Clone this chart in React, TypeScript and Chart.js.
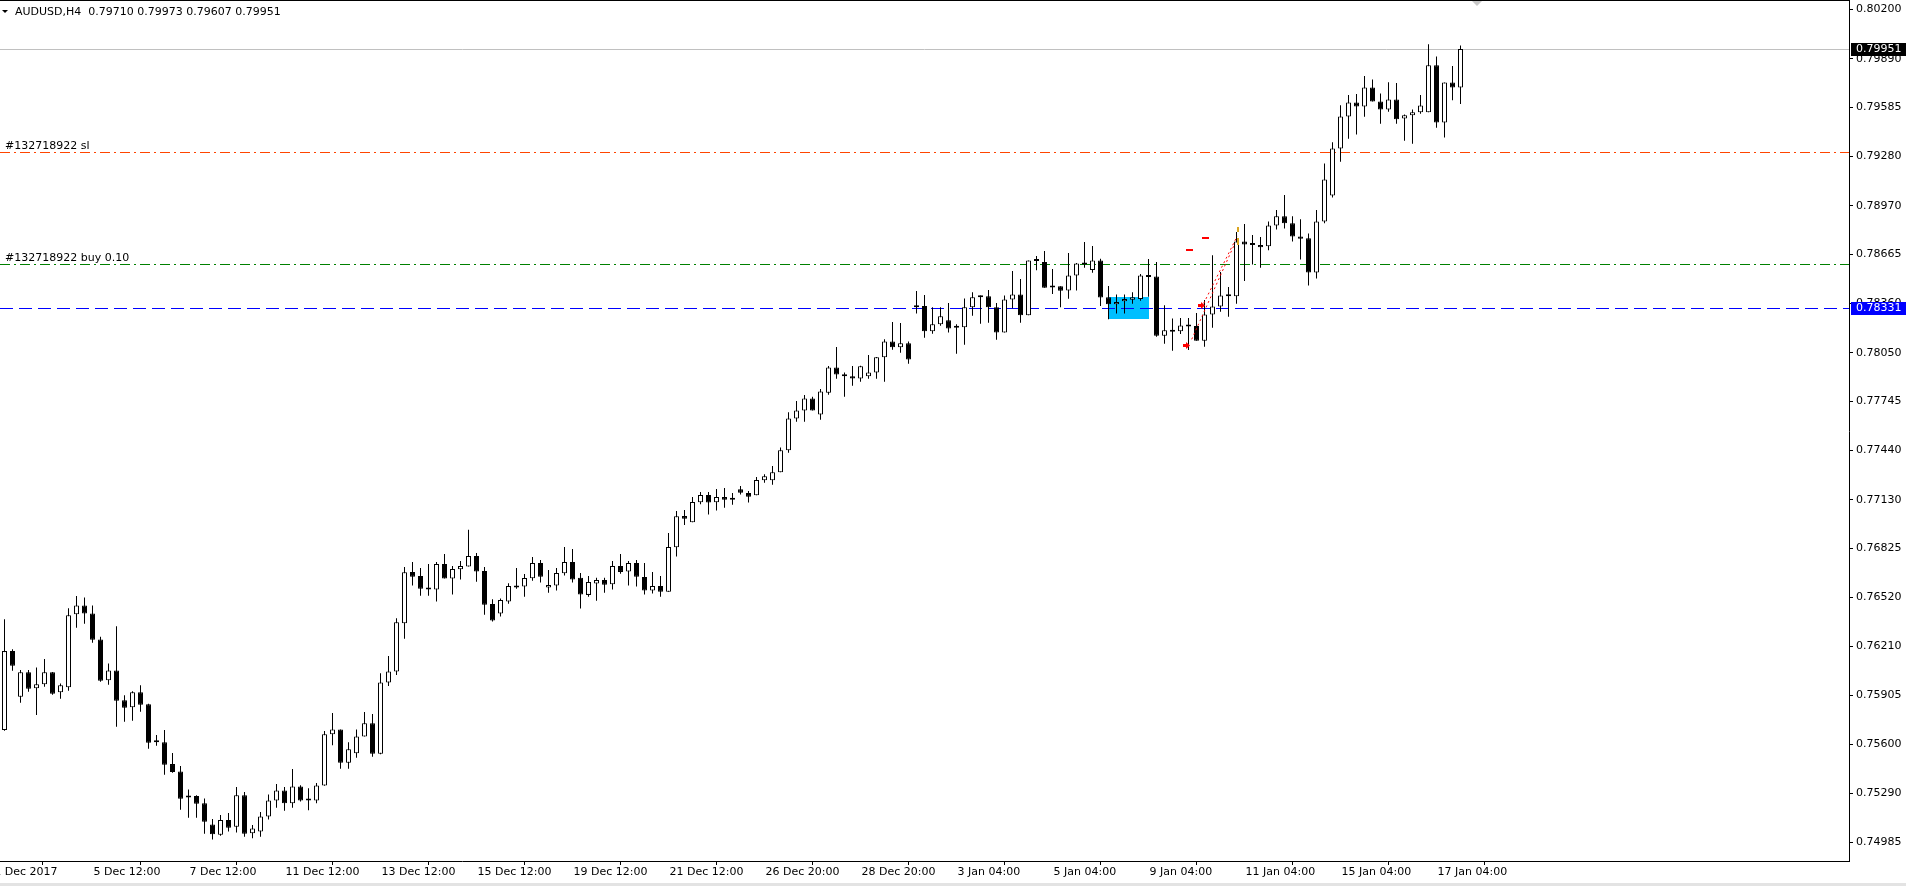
import React, { useEffect, useRef } from 'react';
import { Chart, registerables } from 'chart.js';

Chart.register(...registerables);

// ---- data (AUDUSD, H4) ----
const OPEN = [
  0.75688, 0.76182, 0.75897, 0.76049, 0.75949, 0.75974, 0.76049, 0.75924, 0.75955, 0.76412,
  0.76468, 0.76418, 0.76255, 0.75999, 0.76061, 0.75874, 0.75830, 0.75924, 0.75849, 0.75611,
  0.75611, 0.75475, 0.75429, 0.75273, 0.75275, 0.75229, 0.75097, 0.75033, 0.75124, 0.75083,
  0.75279, 0.75041, 0.75053, 0.75147, 0.75247, 0.75310, 0.75229, 0.75335, 0.75249, 0.75247,
  0.75341, 0.75661, 0.75692, 0.75483, 0.75542, 0.75648, 0.75730, 0.75540, 0.75986, 0.76055,
  0.76356, 0.76677, 0.76653, 0.76577, 0.76567, 0.76728, 0.76636, 0.76694, 0.76711, 0.76778,
  0.76684, 0.76477, 0.76417, 0.76492, 0.76590, 0.76586, 0.76638, 0.76734, 0.76580, 0.76592,
  0.76669, 0.76740, 0.76642, 0.76534, 0.76605, 0.76627, 0.76600, 0.76715, 0.76680, 0.76734,
  0.76646, 0.76561, 0.76590, 0.76554, 0.76832, 0.77028, 0.76989, 0.77114, 0.77160, 0.77114,
  0.77147, 0.77139, 0.77195, 0.77172, 0.77158, 0.77251, 0.77251, 0.77301, 0.77439, 0.77639,
  0.77689, 0.77764, 0.77664, 0.77800, 0.77958, 0.77914, 0.77902, 0.77889, 0.77902, 0.77927,
  0.78021, 0.78121, 0.78084, 0.78109, 0.78347, 0.78342, 0.78184, 0.78228, 0.78253, 0.78211,
  0.78209, 0.78334, 0.78405, 0.78403, 0.78334, 0.78177, 0.78384, 0.78415, 0.78284, 0.78624,
  0.78618, 0.78468, 0.78466, 0.78440, 0.78534, 0.78612, 0.78568, 0.78628, 0.78397, 0.78353,
  0.78372, 0.78382, 0.78386, 0.78534, 0.78528, 0.78157, 0.78190, 0.78184, 0.78221, 0.78217,
  0.78125, 0.78290, 0.78340, 0.78409, 0.78403, 0.78747, 0.78731, 0.78724, 0.78716, 0.78847,
  0.78905, 0.78860, 0.78778, 0.78766, 0.78553, 0.78872, 0.79035, 0.79329, 0.79529, 0.79617,
  0.79592, 0.79711, 0.79623, 0.79573, 0.79636, 0.79517, 0.79536, 0.79555, 0.79555, 0.79849,
  0.79492, 0.79742, 0.79710,
];
const HIGH = [
  0.76381, 0.76193, 0.76064, 0.76064, 0.76080, 0.76132, 0.76052, 0.75980, 0.76450, 0.76527,
  0.76518, 0.76468, 0.76272, 0.76105, 0.76337, 0.75905, 0.75930, 0.75968, 0.75853, 0.75657,
  0.75688, 0.75544, 0.75462, 0.75316, 0.75279, 0.75260, 0.75131, 0.75156, 0.75168, 0.75331,
  0.75300, 0.75093, 0.75174, 0.75285, 0.75350, 0.75331, 0.75444, 0.75343, 0.75323, 0.75356,
  0.75682, 0.75794, 0.75692, 0.75611, 0.75692, 0.75801, 0.75788, 0.76043, 0.76151, 0.76387,
  0.76709, 0.76740, 0.76703, 0.76728, 0.76740, 0.76790, 0.76715, 0.76746, 0.76941, 0.76797,
  0.76709, 0.76506, 0.76511, 0.76607, 0.76703, 0.76665, 0.76771, 0.76753, 0.76690, 0.76703,
  0.76834, 0.76822, 0.76671, 0.76653, 0.76642, 0.76642, 0.76746, 0.76790, 0.76746, 0.76753,
  0.76734, 0.76677, 0.76653, 0.76922, 0.77059, 0.77066, 0.77147, 0.77178, 0.77178, 0.77197,
  0.77203, 0.77172, 0.77216, 0.77185, 0.77272, 0.77290, 0.77341, 0.77457, 0.77677, 0.77748,
  0.77785, 0.77775, 0.77823, 0.77967, 0.78086, 0.77927, 0.77967, 0.77969, 0.78036, 0.78023,
  0.78134, 0.78242, 0.78236, 0.78121, 0.78436, 0.78411, 0.78334, 0.78334, 0.78361, 0.78228,
  0.78390, 0.78428, 0.78409, 0.78443, 0.78361, 0.78409, 0.78561, 0.78511, 0.78628, 0.78655,
  0.78687, 0.78574, 0.78466, 0.78674, 0.78612, 0.78743, 0.78718, 0.78639, 0.78468, 0.78415,
  0.78415, 0.78428, 0.78543, 0.78637, 0.78618, 0.78347, 0.78265, 0.78267, 0.78267, 0.78299,
  0.78380, 0.78660, 0.78555, 0.78461, 0.78806, 0.78856, 0.78787, 0.78774, 0.78872, 0.78943,
  0.79037, 0.78905, 0.78885, 0.78797, 0.78943, 0.79235, 0.79367, 0.79600, 0.79663, 0.79669,
  0.79782, 0.79761, 0.79673, 0.79744, 0.79738, 0.79542, 0.79573, 0.79663, 0.79982, 0.79905,
  0.79742, 0.79845, 0.79973,
];
const LOW = [
  0.75684, 0.76059, 0.75859, 0.75928, 0.75782, 0.75959, 0.75909, 0.75884, 0.75934, 0.76329,
  0.76354, 0.76235, 0.75990, 0.75972, 0.75709, 0.75740, 0.75746, 0.75803, 0.75571, 0.75590,
  0.75408, 0.75421, 0.75189, 0.75139, 0.75139, 0.75039, 0.75003, 0.75026, 0.75053, 0.75047,
  0.75020, 0.75010, 0.75020, 0.75128, 0.75202, 0.75183, 0.75202, 0.75241, 0.75185, 0.75229,
  0.75339, 0.75592, 0.75446, 0.75446, 0.75515, 0.75648, 0.75521, 0.75536, 0.75963, 0.76032,
  0.76260, 0.76592, 0.76529, 0.76529, 0.76492, 0.76636, 0.76536, 0.76630, 0.76711, 0.76617,
  0.76410, 0.76367, 0.76398, 0.76479, 0.76573, 0.76523, 0.76623, 0.76611, 0.76548, 0.76561,
  0.76655, 0.76611, 0.76448, 0.76523, 0.76498, 0.76548, 0.76567, 0.76667, 0.76592, 0.76586,
  0.76536, 0.76542, 0.76523, 0.76554, 0.76774, 0.76972, 0.76989, 0.77101, 0.77037, 0.77062,
  0.77080, 0.77099, 0.77162, 0.77112, 0.77158, 0.77236, 0.77224, 0.77301, 0.77424, 0.77618,
  0.77618, 0.77689, 0.77631, 0.77787, 0.77887, 0.77775, 0.77844, 0.77869, 0.77887, 0.77887,
  0.77869, 0.78069, 0.78050, 0.77981, 0.78296, 0.78144, 0.78169, 0.78219, 0.78177, 0.78044,
  0.78100, 0.78282, 0.78232, 0.78238, 0.78132, 0.78177, 0.78328, 0.78238, 0.78284, 0.78566,
  0.78457, 0.78417, 0.78334, 0.78388, 0.78440, 0.78582, 0.78551, 0.78342, 0.78259, 0.78296,
  0.78296, 0.78357, 0.78376, 0.78401, 0.78150, 0.78107, 0.78063, 0.78167, 0.78067, 0.78125,
  0.78088, 0.78207, 0.78307, 0.78276, 0.78357, 0.78499, 0.78603, 0.78582, 0.78691, 0.78822,
  0.78828, 0.78747, 0.78634, 0.78471, 0.78515, 0.78860, 0.79022, 0.79246, 0.79390, 0.79417,
  0.79527, 0.79623, 0.79484, 0.79559, 0.79484, 0.79377, 0.79358, 0.79546, 0.79555, 0.79459,
  0.79398, 0.79630, 0.79607,
];
const CLOSE = [
  0.76182, 0.76091, 0.76049, 0.75947, 0.75974, 0.76049, 0.75915, 0.75968, 0.76406, 0.76468,
  0.76418, 0.76253, 0.75997, 0.76061, 0.75872, 0.75828, 0.75924, 0.75846, 0.75609, 0.75623,
  0.75471, 0.75425, 0.75258, 0.75266, 0.75227, 0.75114, 0.75035, 0.75124, 0.75076, 0.75279,
  0.75039, 0.75072, 0.75147, 0.75247, 0.75310, 0.75229, 0.75335, 0.75247, 0.75246, 0.75341,
  0.75661, 0.75692, 0.75483, 0.75567, 0.75648, 0.75730, 0.75540, 0.75986, 0.76055, 0.76362,
  0.76675, 0.76648, 0.76573, 0.76567, 0.76728, 0.76636, 0.76696, 0.76715, 0.76778, 0.76680,
  0.76473, 0.76373, 0.76502, 0.76590, 0.76580, 0.76640, 0.76734, 0.76648, 0.76596, 0.76671,
  0.76740, 0.76630, 0.76536, 0.76615, 0.76627, 0.76598, 0.76715, 0.76678, 0.76734, 0.76648,
  0.76561, 0.76590, 0.76554, 0.76834, 0.77026, 0.77011, 0.77116, 0.77160, 0.77112, 0.77147,
  0.77130, 0.77130, 0.77174, 0.77149, 0.77254, 0.77276, 0.77301, 0.77439, 0.77639, 0.77689,
  0.77764, 0.77689, 0.77808, 0.77958, 0.77914, 0.77902, 0.77889, 0.77965, 0.77927, 0.78021,
  0.78121, 0.78084, 0.78109, 0.78008, 0.78334, 0.78184, 0.78228, 0.78278, 0.78202, 0.78207,
  0.78334, 0.78397, 0.78397, 0.78334, 0.78177, 0.78384, 0.78415, 0.78284, 0.78628, 0.78628,
  0.78457, 0.78459, 0.78438, 0.78534, 0.78609, 0.78603, 0.78628, 0.78395, 0.78353, 0.78367,
  0.78386, 0.78397, 0.78534, 0.78524, 0.78157, 0.78190, 0.78182, 0.78221, 0.78215, 0.78125,
  0.78290, 0.78340, 0.78409, 0.78403, 0.78747, 0.78728, 0.78724, 0.78710, 0.78847, 0.78904,
  0.78860, 0.78778, 0.78764, 0.78553, 0.78872, 0.79135, 0.79329, 0.79529, 0.79617, 0.79592,
  0.79711, 0.79623, 0.79573, 0.79636, 0.79511, 0.79536, 0.79555, 0.79598, 0.79849, 0.79492,
  0.79742, 0.79711, 0.79951,
];

const Y_TICKS = [
  0.80200, 0.79890, 0.79585, 0.79280, 0.78970, 0.78665, 0.78360, 0.78050, 0.77745,
  0.77440, 0.77130, 0.76825, 0.76520, 0.76210, 0.75905, 0.75600, 0.75290, 0.74985,
];
const X_TICK_INDEX = [-1.4, 11, 23, 35, 47, 59, 71, 83, 95, 107, 119, 131, 143, 155, 167, 179];
const X_TICK_LABELS = [
  '1 Dec 2017', '5 Dec 12:00', '7 Dec 12:00', '11 Dec 12:00', '13 Dec 12:00', '15 Dec 12:00',
  '19 Dec 12:00', '21 Dec 12:00', '26 Dec 20:00', '28 Dec 20:00', '3 Jan 04:00', '5 Jan 04:00',
  '9 Jan 04:00', '11 Jan 04:00', '15 Jan 04:00', '17 Jan 04:00',
];

const SYMBOL = 'AUDUSD,H4';
const ORDER_ID = '#132718922';
const BID_PRICE = 0.79951;
const SL_PRICE = 0.79305;
const BUY_PRICE = 0.78603;
const ALERT_PRICE = 0.78331;
const RECT_INDEX = [137.9, 143.0];
const RECT_PRICE = [0.78263, 0.78399];
const TRADE_OPEN_INDEX = [148.4, 149.9];
const TRADE_OPEN_PRICE = [0.78134, 0.78359];
const TRADE_CLOSE_INDEX = [153.8, 154.1];
const TRADE_CLOSE_PRICE = [0.78735, 0.78781];
const ARROW_INDEX = [147.7, 149.6];
const ARROW_PRICE = [0.78098, 0.78349];
const TP_MARK_INDEX = [148.0, 150.0];
const TP_MARK_PRICE = [0.78691, 0.78766];
const CLOSE_MARK_INDEX = 154.2;
const CLOSE_MARK_PRICE = 0.78780;
const SHIFT_MARK_INDEX = 184;

const FONT = '"DejaVu Sans", sans-serif';

const overlayPlugin = {
  id: 'mt4overlay',
  beforeDatasetsDraw(chart: any) {
    const { ctx, chartArea: a, scales } = chart;
    const x = scales.x, y = scales.y;
    ctx.save();
    ctx.beginPath();
    ctx.rect(a.left, a.top, a.right - a.left, a.bottom - a.top);
    ctx.clip();
    // highlighted rectangle
    const rx1 = Math.round(x.getPixelForValue(RECT_INDEX[0]));
    const rx2 = Math.round(x.getPixelForValue(RECT_INDEX[1]));
    const ry1 = Math.round(y.getPixelForValue(RECT_PRICE[1]));
    const ry2 = Math.round(y.getPixelForValue(RECT_PRICE[0]));
    ctx.fillStyle = '#00BFFF';
    ctx.fillRect(rx1, ry1, rx2 - rx1, ry2 - ry1);

    const hline = (price: number, color: string, dash: number[], w: number) => {
      const py = y.getPixelForValue(price);
      const yy = w % 2 === 1 ? Math.round(py) + 0.5 : Math.round(py);
      ctx.beginPath();
      ctx.setLineDash(dash);
      ctx.strokeStyle = color;
      ctx.lineWidth = w;
      ctx.moveTo(a.left, yy);
      ctx.lineTo(a.right, yy);
      ctx.stroke();
    };
    hline(BID_PRICE, '#C0C0C0', [], 1);
    hline(SL_PRICE, '#FF4500', [10, 4, 2, 4], 1);
    hline(BUY_PRICE, '#008000', [10, 4, 2, 4], 1);
    hline(ALERT_PRICE, '#0000FF', [13, 6], 1);
    ctx.setLineDash([]);

    ctx.fillStyle = '#000000';
    ctx.font = '11px ' + FONT;
    ctx.textBaseline = 'middle';
    ctx.textAlign = 'left';
    ctx.fillText(ORDER_ID + ' sl', 5, y.getPixelForValue(SL_PRICE) - 6);
    ctx.fillText(ORDER_ID + ' buy 0.10', 5, y.getPixelForValue(BUY_PRICE) - 6);
    ctx.restore();
  },
  afterDatasetsDraw(chart: any) {
    const { ctx, chartArea: a, scales } = chart;
    const x = scales.x, y = scales.y;
    ctx.save();
    ctx.beginPath();
    ctx.rect(a.left, a.top, a.right - a.left, a.bottom - a.top);
    ctx.clip();
    // dotted trade lines
    ctx.strokeStyle = '#FF0000';
    ctx.lineWidth = 1;
    ctx.setLineDash([2, 3]);
    for (let i = 0; i < TRADE_OPEN_INDEX.length; i++) {
      ctx.beginPath();
      ctx.moveTo(x.getPixelForValue(TRADE_OPEN_INDEX[i]), y.getPixelForValue(TRADE_OPEN_PRICE[i]));
      ctx.lineTo(x.getPixelForValue(TRADE_CLOSE_INDEX[i]), y.getPixelForValue(TRADE_CLOSE_PRICE[i]));
      ctx.stroke();
    }
    ctx.setLineDash([]);
    // buy arrows
    ctx.fillStyle = '#FF0000';
    for (let i = 0; i < ARROW_INDEX.length; i++) {
      const px = Math.round(x.getPixelForValue(ARROW_INDEX[i]));
      const py = Math.round(y.getPixelForValue(ARROW_PRICE[i]));
      ctx.fillRect(px - 3, py - 1, 3, 3);
      ctx.beginPath();
      ctx.moveTo(px, py - 3);
      ctx.lineTo(px + 4, py + 0.5);
      ctx.lineTo(px, py + 4);
      ctx.closePath();
      ctx.fill();
    }
    // short red level marks
    for (let i = 0; i < TP_MARK_INDEX.length; i++) {
      const px = Math.round(x.getPixelForValue(TP_MARK_INDEX[i]));
      const py = Math.round(y.getPixelForValue(TP_MARK_PRICE[i]));
      ctx.fillRect(px - 3, py - 1, 7, 2);
    }
    // close marker
    {
      const px = Math.round(x.getPixelForValue(CLOSE_MARK_INDEX));
      const py = Math.round(y.getPixelForValue(CLOSE_MARK_PRICE));
      ctx.fillStyle = '#DAA520';
      ctx.fillRect(px - 1, py - 9, 2, 5);
      ctx.fillRect(px - 1, py + 2, 2, 7);
    }
    ctx.restore();
  },
  afterDraw(chart: any) {
    const { ctx, chartArea: a, scales, width, height } = chart;
    const x = scales.x, y = scales.y;
    ctx.save();
    ctx.font = '11px ' + FONT;
    ctx.textBaseline = 'middle';
    ctx.textAlign = 'left';
    // price labels on the axis
    const box = (price: number, bg: string) => {
      const py = Math.round(y.getPixelForValue(price));
      ctx.fillStyle = bg;
      ctx.fillRect(a.right + 2, py - 6, width - a.right - 2, 13);
      ctx.fillStyle = '#FFFFFF';
      ctx.fillText(price.toFixed(5), a.right + 7, py + 0.5);
    };
    box(BID_PRICE, '#000000');
    box(ALERT_PRICE, '#0000FF');
    // top frame line
    ctx.fillStyle = '#000000';
    ctx.fillRect(0, 0, a.right + 1, 1);
    // bottom window edge
    ctx.fillStyle = '#E3E3E3';
    ctx.fillRect(0, height - 3, width, 3);
    // header
    ctx.fillStyle = '#000000';
    ctx.beginPath();
    ctx.moveTo(2, 10);
    ctx.lineTo(8, 10);
    ctx.lineTo(5, 13);
    ctx.closePath();
    ctx.fill();
    const last = CLOSE.length - 1;
    ctx.fillText(
      SYMBOL + '  ' + [OPEN[last], HIGH[last], LOW[last], CLOSE[last]].map((v) => v.toFixed(5)).join(' '),
      15, 12.5,
    );
    // chart shift marker
    const sx = Math.round(x.getPixelForValue(SHIFT_MARK_INDEX));
    ctx.fillStyle = '#C8C8C8';
    ctx.beginPath();
    ctx.moveTo(sx - 5, 1);
    ctx.lineTo(sx + 5, 1);
    ctx.lineTo(sx, 6);
    ctx.closePath();
    ctx.fill();
    ctx.restore();
  },
};

export default function App() {
  const ref = useRef<HTMLCanvasElement | null>(null);
  useEffect(() => {
    document.body.style.margin = '0';
    const canvas = ref.current;
    if (!canvas) return;
    const bodies = OPEN.map((o, i) => ({ x: i, y: [o, CLOSE[i]] }));
    const wicks = LOW.map((l, i) => ({ x: i, y: [l, HIGH[i]] }));
    const chart = new Chart(canvas, {
      type: 'bar',
      data: {
        datasets: [
          {
            label: 'body',
            data: bodies as any,
            order: 0,
            grouped: false,
            maxBarThickness: 5,
            barPercentage: 1,
            categoryPercentage: 1,
            minBarLength: 2,
            borderWidth: 1,
            borderColor: '#000000',
            borderSkipped: false,
            inflateAmount: 0,
            backgroundColor: (c: any) =>
              CLOSE[c.dataIndex] >= OPEN[c.dataIndex] ? '#FFFFFF' : '#000000',
          } as any,
          {
            label: 'wick',
            data: wicks as any,
            order: 1,
            grouped: false,
            maxBarThickness: 1,
            barPercentage: 1,
            categoryPercentage: 1,
            minBarLength: 1,
            borderWidth: 0,
            inflateAmount: 0,
            backgroundColor: '#000000',
          } as any,
        ],
      },
      options: {
        animation: false,
        responsive: false,
        devicePixelRatio: 1,
        layout: { padding: { top: 1, left: 0, right: 0, bottom: 0 } },
        plugins: { legend: { display: false }, tooltip: { enabled: false } },
        events: [],
        scales: {
          x: {
            type: 'linear',
            position: 'bottom',
            min: -4.5 / 8,
            max: (1849 - 4.5) / 8,
            bounds: 'data',
            offset: false,
            afterBuildTicks: (s: any) => {
              s.ticks = X_TICK_INDEX.map((v) => ({ value: v }));
            },
            afterFit: (s: any) => {
              s.height = 25;
              s.paddingLeft = 0;
              s.paddingRight = 0;
              s.paddingTop = 0;
              s.paddingBottom = 0;
            },
            ticks: {
              autoSkip: false,
              maxRotation: 0,
              minRotation: 0,
              align: 'start',
              padding: 1,
              labelOffset: 1,
              color: '#000000',
              font: { family: FONT, size: 11 },
              callback: (v: any) => {
                const k = X_TICK_INDEX.indexOf(Number(v));
                return k >= 0 ? X_TICK_LABELS[k] : '';
              },
            },
            grid: { drawOnChartArea: false, drawTicks: true, tickLength: 4, tickColor: '#000000' },
            border: { display: true, color: '#000000', width: 1 },
          } as any,
          y: {
            type: 'linear',
            position: 'right',
            min: 0.74868,
            max: 0.80252,
            bounds: 'data',
            afterBuildTicks: (s: any) => {
              s.ticks = Y_TICKS.map((v) => ({ value: v }));
            },
            afterFit: (s: any) => {
              s.width = 1906 - 1849;
              s.paddingLeft = 0;
              s.paddingRight = 0;
              s.paddingTop = 0;
              s.paddingBottom = 0;
            },
            ticks: {
              autoSkip: false,
              padding: 3,
              color: '#000000',
              font: { family: FONT, size: 11 },
              callback: (v: any) => Number(v).toFixed(5),
            },
            grid: { drawOnChartArea: false, drawTicks: true, tickLength: 4, tickColor: '#000000' },
            border: { display: true, color: '#000000', width: 1 },
          } as any,
        },
      } as any,
      plugins: [overlayPlugin],
    });
    return () => chart.destroy();
  }, []);
  return (
    <div style={{ position: 'fixed', left: 0, top: 0, width: 1906, height: 886, background: '#FFFFFF' }}>
      <canvas ref={ref} width={1906} height={886} style={{ display: 'block' }} />
    </div>
  );
}
